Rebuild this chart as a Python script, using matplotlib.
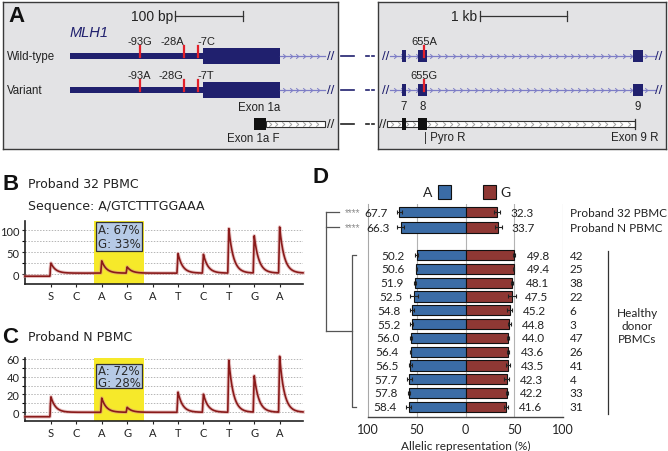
import numpy as np
import matplotlib
matplotlib.use('Agg')
import matplotlib.pyplot as plt
from matplotlib.patches import Rectangle
from matplotlib.path import Path

plt.rcParams['font.family'] = ['Liberation Sans', 'DejaVu Sans']

W, H = 668, 452

# ---------------- data ----------------
# panel A, left box (bp, 0 = start of exon 1a)
promoter_bp = (-196, 0)
exon1a_bp = (0, 114)
intron1_end_bp = 181
snp_bp = [-93, -28, -7]
wt_alleles = ['-93G', '-28A', '-7C']
var_alleles = ['-93A', '-28G', '-7T']
exon1aF_bp = (76, 93)
# panel A, right box (kb, 0 = exon 7)
exon_kb = [0.0, 0.213, 2.69]
exon_w_kb = [0.046, 0.103, 0.115]
exon_names = ['7', '8', '9']
snp655_kb = 0.23
exon9R_kb = 2.655

# panels B / C : pyrosequencing
dispensation = ['S', 'C', 'A', 'G', 'A', 'T', 'C', 'T', 'G', 'A']
peaks_32 = [23, 0, 28, 14, 0, 45, 43, 102, 85, 105]
peaks_N = [17.5, 0, 16, 5.5, 0, 23, 20.5, 59, 41, 63]
pct_32 = (67, 33)
pct_N = (72, 28)

# panel D
samples = ['Proband 32 PBMC', 'Proband N PBMC', '42', '25', '38', '22', '6', '3',
           '47', '26', '41', '4', '33', '31']
allele_A = [67.7, 66.3, 50.2, 50.6, 51.9, 52.5, 54.8, 55.2, 56.0, 56.4, 56.5, 57.7, 57.8, 58.4]
allele_G = [32.3, 33.7, 49.8, 49.4, 48.1, 47.5, 45.2, 44.8, 44.0, 43.6, 43.5, 42.3, 42.2, 41.6]
allele_err = [3.0, 3.5, 1.2, 0.6, 1.0, 4.0, 2.2, 1.4, 1.0, 1.0, 1.8, 2.8, 1.0, 2.4]

# ---------------- style ----------------
navy = '#20206e'
lav = '#7d7dc6'
red = '#e3202a'
boxbg = '#e3e3e5'
blue = '#3b6ca6'
brown = '#8f3834'
trace = '#8a1a1a'
gill = ['Lato', 'DejaVu Sans']

fig = plt.figure(figsize=(W / 100, H / 100), dpi=100)


def px_axes(x0, y0, x1, y1):
    return fig.add_axes([x0 / W, 1 - y1 / H, (x1 - x0) / W, (y1 - y0) / H])


chev = Path([(-0.45, 0.8), (0.45, 0), (-0.45, -0.8)], [Path.MOVETO, Path.LINETO, Path.LINETO])


def intron(ax, x0, x1, t, step, color, lw=0.9):
    ax.plot([x0, x1], [t, t], color=color, lw=lw, zorder=2)
    xs = np.arange(x0 + step * 0.6, x1 - step * 0.3, step)
    ax.plot(xs, [t] * len(xs), ls='none', marker=chev, ms=3.3, mec=color, mfc='none', mew=0.7, zorder=3)


def open_bar(ax, x0, x1, t, step):
    ax.add_patch(Rectangle((x0, t - 0.085), x1 - x0, 0.17, fc='white', ec='#333333', lw=0.8, zorder=2))
    xs = np.arange(x0 + step * 0.6, x1 - step * 0.3, step)
    ax.plot(xs, [t] * len(xs), ls='none', marker=chev, ms=3.2, mec='#a0a0a0', mfc='none', mew=0.7, zorder=3)


def box_axes(ax):
    ax.set_facecolor(boxbg)
    ax.set_xticks([])
    ax.set_yticks([])
    for s in ax.spines.values():
        s.set_color('#3a3a3a')
        s.set_linewidth(1.0)


tracks = [0, 1, 2]
TRK = 34.0          # px per track
ROW0 = 57.0         # px of first track

# ---- panel A left ----
BP = 0.677
X0 = 202.7
axL = px_axes(3, 3, 338, 150)
box_axes(axL)
axL.set_xlim((3 - X0) / BP, (338 - X0) / BP)
axL.set_ylim((150 - ROW0) / TRK, (3 - ROW0) / TRK)
afont = dict(fontsize=8.3, color='#222222')

for t, lab, alleles in zip(tracks[:2], ['Wild-type', 'Variant'], [wt_alleles, var_alleles]):
    axL.add_patch(Rectangle((promoter_bp[0], t - 0.09), promoter_bp[1] - promoter_bp[0], 0.18,
                            fc=navy, ec='none', zorder=2))
    axL.add_patch(Rectangle((exon1a_bp[0], t - 0.235), exon1a_bp[1] - exon1a_bp[0], 0.47,
                            fc=navy, ec='none', zorder=2))
    intron(axL, exon1a_bp[1], intron1_end_bp, t, 10, lav)
    axL.text(189, t, '//', ha='center', va='center', fontsize=9.5, color=navy)
    axL.text(-289, t, lab, ha='left', va='center', **afont)
    for b, a, ha in zip(snp_bp, alleles, ['center', 'right', 'left']):
        axL.plot([b, b], [t - 0.3, t + 0.03], color=red, lw=1.6, zorder=4)
        axL.text(b, t - 0.44, a, ha=ha, va='center', fontsize=8, color='#222222')

t = tracks[2]
axL.add_patch(Rectangle((exon1aF_bp[0], t - 0.18), exon1aF_bp[1] - exon1aF_bp[0], 0.36,
                        fc='#111111', ec='none', zorder=3))
open_bar(axL, exon1aF_bp[1], intron1_end_bp, t, 10)
axL.text(189, t, '//', ha='center', va='center', fontsize=9.5, color='#222222')
axL.text(exon1a_bp[1], 1.5, 'Exon 1a', ha='right', va='center', **afont)
axL.text(exon1a_bp[1] - 1, 2.41, 'Exon 1a F', ha='right', va='center', **afont)
axL.text(promoter_bp[0], -0.7, 'MLH1', ha='left', va='center', fontsize=10.5, color=navy, style='italic')
axL.text(-44, -1.18, '100 bp', ha='right', va='center', fontsize=10, color='#222222')
axL.plot([-41, 59], [-1.18, -1.18], color='#333333', lw=0.9)
for e in (-41, 59):
    axL.plot([e, e], [-1.33, -1.03], color='#333333', lw=0.9)

# ---- panel A right ----
KB = 87.0
K0 = 404.0
axR = px_axes(378, 3, 666, 150)
box_axes(axR)
axR.set_xlim((378 - K0) / KB, (666 - K0) / KB)
axR.set_ylim((150 - ROW0) / TRK, (3 - ROW0) / TRK)

for t, allele in zip(tracks[:2], ['655A', '655G']):
    axR.text(-0.21, t, '//', ha='center', va='center', fontsize=9.5, color=navy)
    intron(axR, -0.16, 2.885, t, 0.085, lav)
    axR.text(2.93, t, '//', ha='center', va='center', fontsize=9.5, color=navy)
    for c, w in zip(exon_kb, exon_w_kb):
        axR.add_patch(Rectangle((c - w / 2, t - 0.18), w, 0.36, fc=navy, ec='none', zorder=4))
    axR.plot([snp655_kb, snp655_kb], [t - 0.3, t + 0.03], color=red, lw=1.6, zorder=5)
    axR.text(snp655_kb, t - 0.44, allele, ha='center', va='center', fontsize=8, color='#222222')
for c, n in zip(exon_kb, exon_names):
    axR.text(c, 1.47, n, ha='center', va='center', fontsize=8.3, color='#222222')

t = tracks[2]
axR.text(-0.25, t, '//', ha='center', va='center', fontsize=9.5, color='#222222')
open_bar(axR, -0.19, exon9R_kb, t, 0.085)
axR.plot([exon9R_kb, exon9R_kb], [t - 0.16, t + 0.16], color='#333333', lw=0.9, zorder=4)
for c, w in zip(exon_kb[:2], exon_w_kb[:2]):
    axR.add_patch(Rectangle((c - w / 2, t - 0.18), w, 0.36, fc='#111111', ec='none', zorder=4))
axR.text(exon_kb[1] + 0.02, 2.38, '| Pyro R', ha='left', va='center', **afont)
axR.text(2.93, 2.38, 'Exon 9 R', ha='right', va='center', **afont)
axR.text(0.845, -1.18, '1 kb', ha='right', va='center', fontsize=10, color='#222222')
axR.plot([0.874, 1.874], [-1.18, -1.18], color='#333333', lw=0.9)
for e in (0.874, 1.874):
    axR.plot([e, e], [-1.33, -1.03], color='#333333', lw=0.9)


# ---- panels B / C ----
def pyro(ax, peaks, base1, ylim, major, minor, pct, box_y, txt_y):
    pos = np.arange(1, len(dispensation) + 1)
    x = np.linspace(-0.02, 10.92, 3000)
    y = np.where(x < pos[0] - 0.03, -5.0, base1)
    for p, h in zip(pos, peaks):
        d = x - p
        rise = np.clip((d + 0.04) / 0.04, 0, 1)
        y = y + h * np.where(d < 0, rise, np.exp(-d / 0.18))
    ax.axvspan(2.69, 4.66, color='#f6e92a', zorder=1, lw=0)
    for g in minor:
        ax.axhline(g, color='#b5b5b5', lw=0.7, ls=(0, (1.5, 1.5)), zorder=0)
    ax.plot(x, y, color='#d28a8a', lw=2.6, alpha=0.5, zorder=3, clip_on=False)
    ax.plot(x, y, color=trace, lw=1.2, zorder=4, clip_on=False)
    ax.add_patch(Rectangle((2.79, box_y[0]), 1.79, box_y[1] - box_y[0], fc='#b6cae6',
                           ec='#333333', lw=0.9, zorder=5))
    ax.text(3.68, txt_y[0], 'A: %d%%' % pct[0], ha='center', va='center', fontsize=8.5,
            color='#2a2a2a', family='DejaVu Sans', zorder=6)
    ax.text(3.68, txt_y[1], 'G: %d%%' % pct[1], ha='center', va='center', fontsize=8.5,
            color='#2a2a2a', family='DejaVu Sans', zorder=6)
    ax.set_xlim(-0.02, 10.92)
    ax.set_ylim(*ylim)
    ax.set_xticks(pos)
    ax.set_xticklabels(dispensation, family=gill, fontsize=8)
    ax.set_yticks(major)
    ax.set_yticklabels([str(v) for v in major], family=gill, fontsize=8)
    ax.set_yticks(minor, minor=True)
    ax.tick_params(axis='both', length=2.5, width=0.8, pad=1.5, colors='#222222')
    ax.tick_params(axis='y', which='minor', length=2, width=0.8)
    for s in ('top', 'right'):
        ax.spines[s].set_visible(False)
    for s in ('left', 'bottom'):
        ax.spines[s].set_linewidth(1.2)
        ax.spines[s].set_color('#222222')
    ax.set_facecolor('none')


axB = px_axes(25, 222, 303, 285)
pyro(axB, peaks_32, 2.0, (-22.7, 120.5), [0, 50, 100], [0, 25, 50, 75, 100], pct_32,
     (52, 118), (101, 70))
axC = px_axes(25, 359, 303, 422)
pyro(axC, peaks_N, 0.0, (-9.8, 61), [0, 20, 40, 60], [0, 10, 20, 30, 40, 50, 60], pct_N,
     (27.3, 54.5), (47, 33))

# ---- panel D ----
axD = px_axes(368, 205, 563, 418)
rows = np.r_[-3.1, -2.0, np.arange(len(samples) - 2)]
ekw = dict(ecolor='#222222', elinewidth=0.8, capsize=1.5, capthick=0.8)
axD.barh(rows, -np.array(allele_A), height=0.74, color=blue, edgecolor='#111111', lw=0.8,
         xerr=allele_err, error_kw=ekw, zorder=3)
axD.barh(rows, allele_G, height=0.74, color=brown, edgecolor='#111111', lw=0.8,
         xerr=allele_err, error_kw=ekw, zorder=3)
for v in (-50, 0, 50, 100):
    axD.axvline(v, color='#b3b3b3', lw=0.8, zorder=1)
dfont = dict(family=gill, fontsize=8.5, color='#222222')
for r, a, g, s in zip(rows, allele_A, allele_G, samples):
    axD.text(-a - 11.8, r, '%.1f' % a, ha='right', va='center', **dfont)
    axD.text(g + 13.5, r, '%.1f' % g, ha='left', va='center', **dfont)
    axD.text(107, r, s, ha='left', va='center', clip_on=False, **dfont)
axD.set_xlim(-100, 100)
axD.set_ylim(11.74, -3.7)
axD.set_xticks([-100, -50, 0, 50, 100])
axD.set_xticklabels(['100', '50', '0', '50', '100'], family=gill, fontsize=9)
axD.set_yticks([])
axD.tick_params(axis='x', length=0, pad=4, colors='#222222')
axD.set_xlabel('Allelic representation (%)', family=gill, fontsize=8.5, color='#222222', labelpad=4)
axD.spines['top'].set_visible(False)
axD.spines['right'].set_visible(False)
axD.spines['left'].set_color('#a8a8a8')
axD.spines['bottom'].set_color('#444444')
axD.spines['bottom'].set_linewidth(1.0)
axD.set_facecolor('none')

# legend
axD.add_patch(Rectangle((-28.2, -5.07), 13.3, 1.0, fc=blue, ec='#111111', lw=0.8, clip_on=False))
axD.add_patch(Rectangle((17.9, -5.07), 13.3, 1.0, fc=brown, ec='#111111', lw=0.8, clip_on=False))
axD.text(-34, -4.57, 'A', ha='right', va='center', family=gill, fontsize=10, color='#222222')
axD.text(35.5, -4.57, 'G', ha='left', va='center', family=gill, fontsize=10, color='#222222')

# healthy donor label and bracket on the right
axD.plot([146, 146], [-0.3, 11.5], color='#333333', lw=0.9, clip_on=False)
axD.text(176, 5.1, 'Healthy\ndonor\nPBMCs', ha='center', va='center', linespacing=1.2,
         clip_on=False, **dfont)

# significance brackets on the left
lc = dict(color='#555555', lw=0.9, clip_on=False)
axD.plot([-143, -143], [rows[0], 5.5], **lc)
for r in rows[:2]:
    axD.plot([-143, -130], [r, r], **lc)
    axD.text(-116, r, '****', ha='center', va='center', fontsize=7, color='#8a8a8a', clip_on=False)
axD.plot([-143, -116.4], [5.5, 5.5], **lc)
axD.plot([-112.3, -116.4, -116.4, -112.3], [0, 0, 11, 11], **lc)

# ---- overlay: connectors and panel letters ----
ov = fig.add_axes([0, 0, 1, 1])
ov.set_xlim(0, W)
ov.set_ylim(H, 0)
ov.axis('off')
ov.patch.set_alpha(0)
for t, c in zip(tracks, [navy, navy, '#222222']):
    y = ROW0 + TRK * t
    ov.plot([341, 354], [y, y], color=c, lw=1.2)
    ov.plot([366, 368.5], [y, y], color=c, lw=1.2)
    ov.plot([371.5, 374], [y, y], color=c, lw=1.2)

ov.text(8, 16, 'A', ha='left', va='center', fontsize=16, fontweight='bold', color='#111111')
ov.text(2, 185, 'B', ha='left', va='center', fontsize=16, fontweight='bold', color='#111111')
ov.text(2, 338, 'C', ha='left', va='center', fontsize=16, fontweight='bold', color='#111111')
ov.text(312, 178, 'D', ha='left', va='center', fontsize=16, fontweight='bold', color='#111111')
ov.text(28, 185, 'Proband 32 PBMC', ha='left', va='center', fontsize=9, family='DejaVu Sans', color='#222222')
ov.text(28, 207, 'Sequence: A/GTCTTTGGAAA', ha='left', va='center', fontsize=9, family='DejaVu Sans',
        color='#222222')
ov.text(28, 338, 'Proband N PBMC', ha='left', va='center', fontsize=9, family='DejaVu Sans', color='#222222')

fig.savefig('out.png', dpi=100)
